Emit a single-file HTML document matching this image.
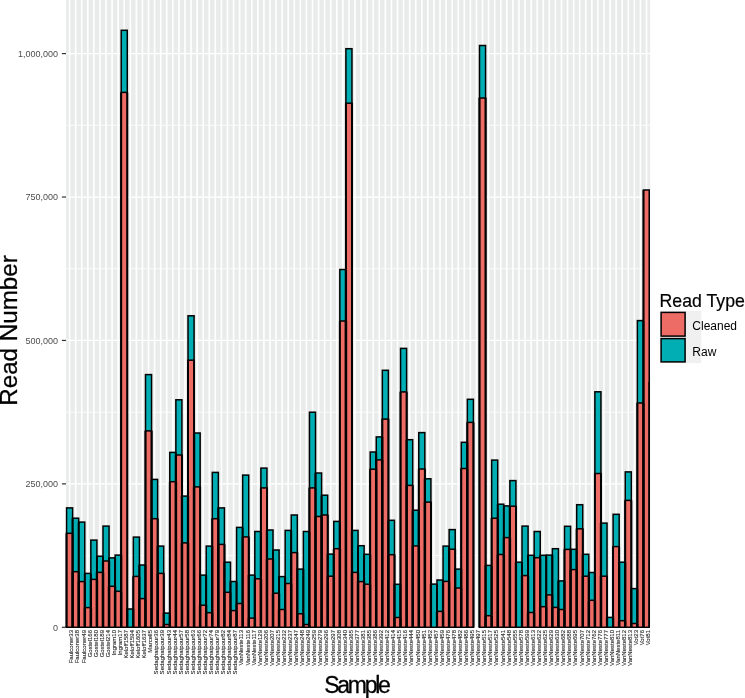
<!DOCTYPE html>
<html><head><meta charset="utf-8"><title>Read Number by Sample</title>
<style>html,body{margin:0;padding:0;background:#fff}svg{display:block}text{font-family:"Liberation Sans",Arial,Helvetica,sans-serif}</style></head><body>
<svg width="745" height="698" viewBox="0 0 745 698">
<rect width="745" height="698" fill="#fff"/>
<rect x="66.1" y="0" width="584.10" height="627.6" fill="#E9EAEA"/>
<path d="M66.1 555.59H650.2M66.1 412.16H650.2M66.1 268.74H650.2M66.1 125.31H650.2" stroke="#FFFFFF" stroke-width="0.8" fill="none"/>
<path d="M66.1 627.30H650.2M66.1 483.88H650.2M66.1 340.45H650.2M66.1 197.03H650.2M66.1 53.60H650.2" stroke="#FFFFFF" stroke-width="1.3" fill="none"/>
<path d="M69.59 0V627.6M75.66 0V627.6M81.73 0V627.6M87.80 0V627.6M93.88 0V627.6M99.95 0V627.6M106.02 0V627.6M112.10 0V627.6M118.17 0V627.6M124.24 0V627.6M130.31 0V627.6M136.39 0V627.6M142.46 0V627.6M148.53 0V627.6M154.61 0V627.6M160.68 0V627.6M166.75 0V627.6M172.82 0V627.6M178.90 0V627.6M184.97 0V627.6M191.04 0V627.6M197.12 0V627.6M203.19 0V627.6M209.26 0V627.6M215.33 0V627.6M221.41 0V627.6M227.48 0V627.6M233.55 0V627.6M239.62 0V627.6M245.70 0V627.6M251.77 0V627.6M257.84 0V627.6M263.92 0V627.6M269.99 0V627.6M276.06 0V627.6M282.13 0V627.6M288.21 0V627.6M294.28 0V627.6M300.35 0V627.6M306.43 0V627.6M312.50 0V627.6M318.57 0V627.6M324.64 0V627.6M330.72 0V627.6M336.79 0V627.6M342.86 0V627.6M348.94 0V627.6M355.01 0V627.6M361.08 0V627.6M367.15 0V627.6M373.23 0V627.6M379.30 0V627.6M385.37 0V627.6M391.44 0V627.6M397.52 0V627.6M403.59 0V627.6M409.66 0V627.6M415.74 0V627.6M421.81 0V627.6M427.88 0V627.6M433.95 0V627.6M440.03 0V627.6M446.10 0V627.6M452.17 0V627.6M458.25 0V627.6M464.32 0V627.6M470.39 0V627.6M476.46 0V627.6M482.54 0V627.6M488.61 0V627.6M494.68 0V627.6M500.76 0V627.6M506.83 0V627.6M512.90 0V627.6M518.97 0V627.6M525.05 0V627.6M531.12 0V627.6M537.19 0V627.6M543.26 0V627.6M549.34 0V627.6M555.41 0V627.6M561.48 0V627.6M567.56 0V627.6M573.63 0V627.6M579.70 0V627.6M585.77 0V627.6M591.85 0V627.6M597.92 0V627.6M603.99 0V627.6M610.07 0V627.6M616.14 0V627.6M622.21 0V627.6M628.28 0V627.6M634.36 0V627.6M640.43 0V627.6M646.50 0V627.6" stroke="#FFFFFF" stroke-width="1.6" fill="none"/>
<clipPath id="pc"><rect x="65.10" y="0" width="585.00" height="627.95"/></clipPath>
<g clip-path="url(#pc)">
<g stroke="#000" stroke-width="1.5" stroke-linejoin="miter">
<rect x="66.55" y="507.90" width="6.073" height="119.40" fill="#00AEB4"/>
<rect x="66.55" y="533.30" width="6.073" height="94.00" fill="#EE6C66"/>
<rect x="72.62" y="518.20" width="6.073" height="109.10" fill="#00AEB4"/>
<rect x="72.62" y="571.70" width="6.073" height="55.60" fill="#EE6C66"/>
<rect x="78.70" y="522.10" width="6.073" height="105.20" fill="#00AEB4"/>
<rect x="78.70" y="581.60" width="6.073" height="45.70" fill="#EE6C66"/>
<rect x="84.77" y="573.40" width="6.073" height="53.90" fill="#00AEB4"/>
<rect x="84.77" y="607.60" width="6.073" height="19.70" fill="#EE6C66"/>
<rect x="90.84" y="540.10" width="6.073" height="87.20" fill="#00AEB4"/>
<rect x="90.84" y="579.40" width="6.073" height="47.90" fill="#EE6C66"/>
<rect x="96.91" y="556.20" width="6.073" height="71.10" fill="#00AEB4"/>
<rect x="96.91" y="572.40" width="6.073" height="54.90" fill="#EE6C66"/>
<rect x="102.99" y="526.10" width="6.073" height="101.20" fill="#00AEB4"/>
<rect x="102.99" y="561.00" width="6.073" height="66.30" fill="#EE6C66"/>
<rect x="109.06" y="557.90" width="6.073" height="69.40" fill="#00AEB4"/>
<rect x="109.06" y="586.30" width="6.073" height="41.00" fill="#EE6C66"/>
<rect x="115.13" y="555.10" width="6.073" height="72.20" fill="#00AEB4"/>
<rect x="115.13" y="591.30" width="6.073" height="36.00" fill="#EE6C66"/>
<rect x="121.21" y="30.30" width="6.073" height="597.00" fill="#00AEB4"/>
<rect x="121.21" y="92.40" width="6.073" height="534.90" fill="#EE6C66"/>
<rect x="127.28" y="609.00" width="6.073" height="18.30" fill="#00AEB4"/>
<rect x="133.35" y="537.10" width="6.073" height="90.20" fill="#00AEB4"/>
<rect x="133.35" y="576.40" width="6.073" height="50.90" fill="#EE6C66"/>
<rect x="139.42" y="565.00" width="6.073" height="62.30" fill="#00AEB4"/>
<rect x="139.42" y="598.60" width="6.073" height="28.70" fill="#EE6C66"/>
<rect x="145.50" y="374.60" width="6.073" height="252.70" fill="#00AEB4"/>
<rect x="145.50" y="430.90" width="6.073" height="196.40" fill="#EE6C66"/>
<rect x="151.57" y="479.40" width="6.073" height="147.90" fill="#00AEB4"/>
<rect x="151.57" y="518.70" width="6.073" height="108.60" fill="#EE6C66"/>
<rect x="157.64" y="546.10" width="6.073" height="81.20" fill="#00AEB4"/>
<rect x="157.64" y="573.40" width="6.073" height="53.90" fill="#EE6C66"/>
<rect x="163.71" y="613.10" width="6.073" height="14.20" fill="#00AEB4"/>
<rect x="163.71" y="624.50" width="6.073" height="2.80" fill="#EE6C66"/>
<rect x="169.79" y="452.40" width="6.073" height="174.90" fill="#00AEB4"/>
<rect x="169.79" y="481.70" width="6.073" height="145.60" fill="#EE6C66"/>
<rect x="175.86" y="399.80" width="6.073" height="227.50" fill="#00AEB4"/>
<rect x="175.86" y="455.00" width="6.073" height="172.30" fill="#EE6C66"/>
<rect x="181.93" y="496.10" width="6.073" height="131.20" fill="#00AEB4"/>
<rect x="181.93" y="542.90" width="6.073" height="84.40" fill="#EE6C66"/>
<rect x="188.01" y="315.80" width="6.073" height="311.50" fill="#00AEB4"/>
<rect x="188.01" y="360.20" width="6.073" height="267.10" fill="#EE6C66"/>
<rect x="194.08" y="433.00" width="6.073" height="194.30" fill="#00AEB4"/>
<rect x="194.08" y="486.90" width="6.073" height="140.40" fill="#EE6C66"/>
<rect x="200.15" y="575.10" width="6.073" height="52.20" fill="#00AEB4"/>
<rect x="200.15" y="605.20" width="6.073" height="22.10" fill="#EE6C66"/>
<rect x="206.22" y="546.10" width="6.073" height="81.20" fill="#00AEB4"/>
<rect x="206.22" y="612.70" width="6.073" height="14.60" fill="#EE6C66"/>
<rect x="212.30" y="472.40" width="6.073" height="154.90" fill="#00AEB4"/>
<rect x="212.30" y="518.70" width="6.073" height="108.60" fill="#EE6C66"/>
<rect x="218.37" y="507.90" width="6.073" height="119.40" fill="#00AEB4"/>
<rect x="218.37" y="544.40" width="6.073" height="82.90" fill="#EE6C66"/>
<rect x="224.44" y="562.20" width="6.073" height="65.10" fill="#00AEB4"/>
<rect x="224.44" y="592.30" width="6.073" height="35.00" fill="#EE6C66"/>
<rect x="230.52" y="581.50" width="6.073" height="45.80" fill="#00AEB4"/>
<rect x="230.52" y="610.60" width="6.073" height="16.70" fill="#EE6C66"/>
<rect x="236.59" y="527.40" width="6.073" height="99.90" fill="#00AEB4"/>
<rect x="236.59" y="603.50" width="6.073" height="23.80" fill="#EE6C66"/>
<rect x="242.66" y="475.10" width="6.073" height="152.20" fill="#00AEB4"/>
<rect x="242.66" y="536.90" width="6.073" height="90.40" fill="#EE6C66"/>
<rect x="248.73" y="575.10" width="6.073" height="52.20" fill="#00AEB4"/>
<rect x="248.73" y="618.10" width="6.073" height="9.20" fill="#EE6C66"/>
<rect x="254.81" y="531.50" width="6.073" height="95.80" fill="#00AEB4"/>
<rect x="254.81" y="578.80" width="6.073" height="48.50" fill="#EE6C66"/>
<rect x="260.88" y="468.10" width="6.073" height="159.20" fill="#00AEB4"/>
<rect x="260.88" y="487.90" width="6.073" height="139.40" fill="#EE6C66"/>
<rect x="266.95" y="530.00" width="6.073" height="97.30" fill="#00AEB4"/>
<rect x="266.95" y="559.00" width="6.073" height="68.30" fill="#EE6C66"/>
<rect x="273.03" y="550.00" width="6.073" height="77.30" fill="#00AEB4"/>
<rect x="273.03" y="593.20" width="6.073" height="34.10" fill="#EE6C66"/>
<rect x="279.10" y="576.60" width="6.073" height="50.70" fill="#00AEB4"/>
<rect x="279.10" y="609.50" width="6.073" height="17.80" fill="#EE6C66"/>
<rect x="285.17" y="530.40" width="6.073" height="96.90" fill="#00AEB4"/>
<rect x="285.17" y="583.50" width="6.073" height="43.80" fill="#EE6C66"/>
<rect x="291.24" y="515.00" width="6.073" height="112.30" fill="#00AEB4"/>
<rect x="291.24" y="552.60" width="6.073" height="74.70" fill="#EE6C66"/>
<rect x="297.32" y="569.10" width="6.073" height="58.20" fill="#00AEB4"/>
<rect x="297.32" y="613.80" width="6.073" height="13.50" fill="#EE6C66"/>
<rect x="303.39" y="531.50" width="6.073" height="95.80" fill="#00AEB4"/>
<rect x="303.39" y="624.50" width="6.073" height="2.80" fill="#EE6C66"/>
<rect x="309.46" y="412.20" width="6.073" height="215.10" fill="#00AEB4"/>
<rect x="309.46" y="487.90" width="6.073" height="139.40" fill="#EE6C66"/>
<rect x="315.53" y="473.00" width="6.073" height="154.30" fill="#00AEB4"/>
<rect x="315.53" y="516.50" width="6.073" height="110.80" fill="#EE6C66"/>
<rect x="321.61" y="495.20" width="6.073" height="132.10" fill="#00AEB4"/>
<rect x="321.61" y="515.00" width="6.073" height="112.30" fill="#EE6C66"/>
<rect x="327.68" y="554.10" width="6.073" height="73.20" fill="#00AEB4"/>
<rect x="327.68" y="576.20" width="6.073" height="51.10" fill="#EE6C66"/>
<rect x="333.75" y="521.40" width="6.073" height="105.90" fill="#00AEB4"/>
<rect x="333.75" y="548.70" width="6.073" height="78.60" fill="#EE6C66"/>
<rect x="339.83" y="269.50" width="6.073" height="357.80" fill="#00AEB4"/>
<rect x="339.83" y="321.00" width="6.073" height="306.30" fill="#EE6C66"/>
<rect x="345.90" y="48.70" width="6.073" height="578.60" fill="#00AEB4"/>
<rect x="345.90" y="103.20" width="6.073" height="524.10" fill="#EE6C66"/>
<rect x="351.97" y="530.40" width="6.073" height="96.90" fill="#00AEB4"/>
<rect x="351.97" y="572.40" width="6.073" height="54.90" fill="#EE6C66"/>
<rect x="358.04" y="545.70" width="6.073" height="81.60" fill="#00AEB4"/>
<rect x="358.04" y="581.60" width="6.073" height="45.70" fill="#EE6C66"/>
<rect x="364.12" y="554.30" width="6.073" height="73.00" fill="#00AEB4"/>
<rect x="364.12" y="584.20" width="6.073" height="43.10" fill="#EE6C66"/>
<rect x="370.19" y="452.00" width="6.073" height="175.30" fill="#00AEB4"/>
<rect x="370.19" y="469.20" width="6.073" height="158.10" fill="#EE6C66"/>
<rect x="376.26" y="436.90" width="6.073" height="190.40" fill="#00AEB4"/>
<rect x="376.26" y="459.90" width="6.073" height="167.40" fill="#EE6C66"/>
<rect x="382.34" y="370.30" width="6.073" height="257.00" fill="#00AEB4"/>
<rect x="382.34" y="419.10" width="6.073" height="208.20" fill="#EE6C66"/>
<rect x="388.41" y="520.30" width="6.073" height="107.00" fill="#00AEB4"/>
<rect x="388.41" y="554.70" width="6.073" height="72.60" fill="#EE6C66"/>
<rect x="394.48" y="584.30" width="6.073" height="43.00" fill="#00AEB4"/>
<rect x="394.48" y="617.50" width="6.073" height="9.80" fill="#EE6C66"/>
<rect x="400.55" y="348.40" width="6.073" height="278.90" fill="#00AEB4"/>
<rect x="400.55" y="391.90" width="6.073" height="235.40" fill="#EE6C66"/>
<rect x="406.63" y="439.70" width="6.073" height="187.60" fill="#00AEB4"/>
<rect x="406.63" y="485.40" width="6.073" height="141.90" fill="#EE6C66"/>
<rect x="412.70" y="510.20" width="6.073" height="117.10" fill="#00AEB4"/>
<rect x="412.70" y="545.90" width="6.073" height="81.40" fill="#EE6C66"/>
<rect x="418.77" y="432.60" width="6.073" height="194.70" fill="#00AEB4"/>
<rect x="418.77" y="469.00" width="6.073" height="158.30" fill="#EE6C66"/>
<rect x="424.85" y="478.80" width="6.073" height="148.50" fill="#00AEB4"/>
<rect x="424.85" y="502.10" width="6.073" height="125.20" fill="#EE6C66"/>
<rect x="430.92" y="584.10" width="6.073" height="43.20" fill="#00AEB4"/>
<rect x="436.99" y="580.00" width="6.073" height="47.30" fill="#00AEB4"/>
<rect x="436.99" y="611.40" width="6.073" height="15.90" fill="#EE6C66"/>
<rect x="443.06" y="546.10" width="6.073" height="81.20" fill="#00AEB4"/>
<rect x="443.06" y="581.40" width="6.073" height="45.90" fill="#EE6C66"/>
<rect x="449.14" y="529.60" width="6.073" height="97.70" fill="#00AEB4"/>
<rect x="449.14" y="549.20" width="6.073" height="78.10" fill="#EE6C66"/>
<rect x="455.21" y="569.10" width="6.073" height="58.20" fill="#00AEB4"/>
<rect x="455.21" y="588.00" width="6.073" height="39.30" fill="#EE6C66"/>
<rect x="461.28" y="442.30" width="6.073" height="185.00" fill="#00AEB4"/>
<rect x="461.28" y="468.50" width="6.073" height="158.80" fill="#EE6C66"/>
<rect x="467.35" y="399.30" width="6.073" height="228.00" fill="#00AEB4"/>
<rect x="467.35" y="422.40" width="6.073" height="204.90" fill="#EE6C66"/>
<rect x="479.50" y="45.50" width="6.073" height="581.80" fill="#00AEB4"/>
<rect x="479.50" y="98.00" width="6.073" height="529.30" fill="#EE6C66"/>
<rect x="485.57" y="565.40" width="6.073" height="61.90" fill="#00AEB4"/>
<rect x="485.57" y="615.70" width="6.073" height="11.60" fill="#EE6C66"/>
<rect x="491.65" y="460.10" width="6.073" height="167.20" fill="#00AEB4"/>
<rect x="491.65" y="518.20" width="6.073" height="109.10" fill="#EE6C66"/>
<rect x="497.72" y="504.20" width="6.073" height="123.10" fill="#00AEB4"/>
<rect x="497.72" y="554.50" width="6.073" height="72.80" fill="#EE6C66"/>
<rect x="503.79" y="505.90" width="6.073" height="121.40" fill="#00AEB4"/>
<rect x="503.79" y="537.60" width="6.073" height="89.70" fill="#EE6C66"/>
<rect x="509.86" y="480.60" width="6.073" height="146.70" fill="#00AEB4"/>
<rect x="509.86" y="506.20" width="6.073" height="121.10" fill="#EE6C66"/>
<rect x="515.94" y="562.20" width="6.073" height="65.10" fill="#00AEB4"/>
<rect x="522.01" y="526.10" width="6.073" height="101.20" fill="#00AEB4"/>
<rect x="522.01" y="575.60" width="6.073" height="51.70" fill="#EE6C66"/>
<rect x="528.08" y="555.30" width="6.073" height="72.00" fill="#00AEB4"/>
<rect x="528.08" y="612.50" width="6.073" height="14.80" fill="#EE6C66"/>
<rect x="534.16" y="531.50" width="6.073" height="95.80" fill="#00AEB4"/>
<rect x="534.16" y="557.70" width="6.073" height="69.60" fill="#EE6C66"/>
<rect x="540.23" y="555.30" width="6.073" height="72.00" fill="#00AEB4"/>
<rect x="540.23" y="606.70" width="6.073" height="20.60" fill="#EE6C66"/>
<rect x="546.30" y="555.10" width="6.073" height="72.20" fill="#00AEB4"/>
<rect x="546.30" y="594.90" width="6.073" height="32.40" fill="#EE6C66"/>
<rect x="552.37" y="548.70" width="6.073" height="78.60" fill="#00AEB4"/>
<rect x="552.37" y="607.40" width="6.073" height="19.90" fill="#EE6C66"/>
<rect x="558.45" y="580.90" width="6.073" height="46.40" fill="#00AEB4"/>
<rect x="558.45" y="609.50" width="6.073" height="17.80" fill="#EE6C66"/>
<rect x="564.52" y="526.30" width="6.073" height="101.00" fill="#00AEB4"/>
<rect x="564.52" y="549.40" width="6.073" height="77.90" fill="#EE6C66"/>
<rect x="570.59" y="549.30" width="6.073" height="78.00" fill="#00AEB4"/>
<rect x="570.59" y="569.60" width="6.073" height="57.70" fill="#EE6C66"/>
<rect x="576.67" y="504.70" width="6.073" height="122.60" fill="#00AEB4"/>
<rect x="576.67" y="528.80" width="6.073" height="98.50" fill="#EE6C66"/>
<rect x="582.74" y="554.30" width="6.073" height="73.00" fill="#00AEB4"/>
<rect x="582.74" y="576.20" width="6.073" height="51.10" fill="#EE6C66"/>
<rect x="588.81" y="572.50" width="6.073" height="54.80" fill="#00AEB4"/>
<rect x="588.81" y="600.30" width="6.073" height="27.00" fill="#EE6C66"/>
<rect x="594.88" y="391.80" width="6.073" height="235.50" fill="#00AEB4"/>
<rect x="594.88" y="473.50" width="6.073" height="153.80" fill="#EE6C66"/>
<rect x="600.96" y="523.10" width="6.073" height="104.20" fill="#00AEB4"/>
<rect x="600.96" y="576.20" width="6.073" height="51.10" fill="#EE6C66"/>
<rect x="607.03" y="617.40" width="6.073" height="9.90" fill="#00AEB4"/>
<rect x="613.10" y="514.30" width="6.073" height="113.00" fill="#00AEB4"/>
<rect x="613.10" y="546.60" width="6.073" height="80.70" fill="#EE6C66"/>
<rect x="619.17" y="562.20" width="6.073" height="65.10" fill="#00AEB4"/>
<rect x="619.17" y="620.70" width="6.073" height="6.60" fill="#EE6C66"/>
<rect x="625.25" y="471.90" width="6.073" height="155.40" fill="#00AEB4"/>
<rect x="625.25" y="500.40" width="6.073" height="126.90" fill="#EE6C66"/>
<rect x="631.32" y="588.60" width="6.073" height="38.70" fill="#00AEB4"/>
<rect x="631.32" y="623.50" width="6.073" height="3.80" fill="#EE6C66"/>
<rect x="637.39" y="320.60" width="6.073" height="306.70" fill="#00AEB4"/>
<rect x="637.39" y="403.00" width="6.073" height="224.30" fill="#EE6C66"/>
<rect x="643.47" y="190.00" width="6.073" height="437.30" fill="#EE6C66"/>
</g>
<path d="M66.55 533.30V627.30M72.62 518.20V533.30M78.70 522.10V571.70M84.77 573.40V581.60M90.84 573.40V579.40M96.91 556.20V572.40M102.99 556.20V561.00M109.06 557.90V561.00M115.13 557.90V586.30M121.21 92.40V555.10M127.28 92.40V609.00M133.35 576.40V609.00M139.42 565.00V576.40M145.50 430.90V565.00M151.57 430.90V479.40M157.64 518.70V546.10M163.71 573.40V613.10M169.79 481.70V613.10M175.86 452.40V455.00M181.93 455.00V496.10M188.01 360.20V496.10M194.08 360.20V433.00M200.15 486.90V575.10M206.22 575.10V605.20M212.30 518.70V546.10M218.37 507.90V518.70M224.44 544.40V562.20M230.52 581.50V592.30M236.59 581.50V603.50M242.66 527.40V536.90M248.73 536.90V575.10M254.81 575.10V578.80M260.88 487.90V531.50M266.95 487.90V530.00M273.03 550.00V559.00M279.10 576.60V593.20M285.17 576.60V583.50M291.24 530.40V552.60M297.32 552.60V569.10M303.39 569.10V613.80M309.46 487.90V531.50M315.53 473.00V487.90M321.61 495.20V515.00M327.68 515.00V554.10M333.75 548.70V554.10M339.83 321.00V521.40M345.90 103.20V269.50M351.97 103.20V530.40M358.04 545.70V572.40M364.12 554.30V581.60M370.19 469.20V554.30M376.26 452.00V459.90M382.34 419.10V436.90M388.41 419.10V520.30M394.48 554.70V584.30M400.55 391.90V584.30M406.63 391.90V439.70M412.70 485.40V510.20M418.77 469.00V510.20M424.85 469.00V478.80M430.92 502.10V584.10M436.99 584.10V611.40M443.06 580.00V581.40M449.14 546.10V549.20M455.21 549.20V569.10M461.28 468.50V569.10M467.35 422.40V442.30M473.43 422.40V627.30M479.50 98.00V627.30M485.57 98.00V565.40M491.65 518.20V565.40M497.72 504.20V518.20M503.79 505.90V537.60M509.86 505.90V506.20M515.94 506.20V562.20M522.01 562.20V575.60M528.08 555.30V575.60M534.16 555.30V557.70M540.23 555.30V557.70M546.30 555.30V594.90M552.37 555.10V594.90M558.45 580.90V607.40M564.52 549.40V580.90M570.59 549.30V549.40M576.67 528.80V549.30M582.74 528.80V554.30M588.81 572.50V576.20M594.88 473.50V572.50M600.96 473.50V523.10M607.03 576.20V617.40M613.10 546.60V617.40M619.17 546.60V562.20M625.25 500.40V562.20M631.32 500.40V588.60M637.39 403.00V588.60M643.47 190.00V320.60M649.54 190.00V381.80" stroke="#000" stroke-width="1.9" fill="none"/>
<path d="M72.62 533.30V571.70M78.70 571.70V581.60M84.77 581.60V607.60M90.84 579.40V607.60M96.91 572.40V579.40M102.99 561.00V572.40M109.06 561.00V586.30M115.13 586.30V591.30M121.21 555.10V591.30M127.28 609.00V627.30M133.35 609.00V627.30M139.42 576.40V598.60M145.50 565.00V598.60M151.57 479.40V518.70M157.64 546.10V573.40M163.71 613.10V624.50M169.79 613.10V624.50M175.86 455.00V481.70M181.93 496.10V542.90M188.01 496.10V542.90M194.08 433.00V486.90M200.15 575.10V605.20M206.22 605.20V612.70M212.30 546.10V612.70M218.37 518.70V544.40M224.44 562.20V592.30M230.52 592.30V610.60M236.59 603.50V610.60M242.66 536.90V603.50M248.73 575.10V618.10M254.81 578.80V618.10M260.88 531.50V578.80M266.95 530.00V559.00M273.03 559.00V593.20M279.10 593.20V609.50M285.17 583.50V609.50M291.24 552.60V583.50M297.32 569.10V613.80M303.39 613.80V624.50M309.46 531.50V624.50M315.53 487.90V516.50M321.61 515.00V516.50M327.68 554.10V576.20M333.75 554.10V576.20M339.83 521.40V548.70M345.90 269.50V321.00M351.97 530.40V572.40M358.04 572.40V581.60M364.12 581.60V584.20M370.19 554.30V584.20M376.26 459.90V469.20M382.34 436.90V459.90M388.41 520.30V554.70M394.48 584.30V617.50M400.55 584.30V617.50M406.63 439.70V485.40M412.70 510.20V545.90M418.77 510.20V545.90M424.85 478.80V502.10M430.92 584.10V627.30M436.99 611.40V627.30M443.06 581.40V611.40M449.14 549.20V581.40M455.21 569.10V588.00M461.28 569.10V588.00M467.35 442.30V468.50M485.57 565.40V615.70M491.65 565.40V615.70M497.72 518.20V554.50M503.79 537.60V554.50M509.86 506.20V537.60M515.94 562.20V627.30M522.01 575.60V627.30M528.08 575.60V612.50M534.16 557.70V612.50M540.23 557.70V606.70M546.30 594.90V606.70M552.37 594.90V607.40M558.45 607.40V609.50M564.52 580.90V609.50M570.59 549.40V569.60M576.67 549.30V569.60M582.74 554.30V576.20M588.81 576.20V600.30M594.88 572.50V600.30M600.96 523.10V576.20M607.03 617.40V627.30M613.10 617.40V627.30M619.17 562.20V620.70M625.25 562.20V620.70M631.32 588.60V623.50M637.39 588.60V623.50M643.47 320.60V403.00" stroke="#000" stroke-width="2.3" fill="none"/>
<path d="M72.62 571.70V627.30M78.70 581.60V627.30M84.77 607.60V627.30M90.84 607.60V627.30M96.91 579.40V627.30M102.99 572.40V627.30M109.06 586.30V627.30M115.13 591.30V627.30M121.21 591.30V627.30M139.42 598.60V627.30M145.50 598.60V627.30M151.57 518.70V627.30M157.64 573.40V627.30M163.71 624.50V627.30M169.79 624.50V627.30M175.86 481.70V627.30M181.93 542.90V627.30M188.01 542.90V627.30M194.08 486.90V627.30M200.15 605.20V627.30M206.22 612.70V627.30M212.30 612.70V627.30M218.37 544.40V627.30M224.44 592.30V627.30M230.52 610.60V627.30M236.59 610.60V627.30M242.66 603.50V627.30M248.73 618.10V627.30M254.81 618.10V627.30M260.88 578.80V627.30M266.95 559.00V627.30M273.03 593.20V627.30M279.10 609.50V627.30M285.17 609.50V627.30M291.24 583.50V627.30M297.32 613.80V627.30M303.39 624.50V627.30M309.46 624.50V627.30M315.53 516.50V627.30M321.61 516.50V627.30M327.68 576.20V627.30M333.75 576.20V627.30M339.83 548.70V627.30M345.90 321.00V627.30M351.97 572.40V627.30M358.04 581.60V627.30M364.12 584.20V627.30M370.19 584.20V627.30M376.26 469.20V627.30M382.34 459.90V627.30M388.41 554.70V627.30M394.48 617.50V627.30M400.55 617.50V627.30M406.63 485.40V627.30M412.70 545.90V627.30M418.77 545.90V627.30M424.85 502.10V627.30M443.06 611.40V627.30M449.14 581.40V627.30M455.21 588.00V627.30M461.28 588.00V627.30M467.35 468.50V627.30M485.57 615.70V627.30M491.65 615.70V627.30M497.72 554.50V627.30M503.79 554.50V627.30M509.86 537.60V627.30M528.08 612.50V627.30M534.16 612.50V627.30M540.23 606.70V627.30M546.30 606.70V627.30M552.37 607.40V627.30M558.45 609.50V627.30M564.52 609.50V627.30M570.59 569.60V627.30M576.67 569.60V627.30M582.74 576.20V627.30M588.81 600.30V627.30M594.88 600.30V627.30M600.96 576.20V627.30M619.17 620.70V627.30M625.25 620.70V627.30M631.32 623.50V627.30M637.39 623.50V627.30M643.47 403.00V627.30M649.54 381.80V627.30" stroke="#000" stroke-width="2.6" fill="none"/>
</g>
<path d="M61.9 627.30H66.1" stroke="#333" stroke-width="1.2"/>
<text x="58" y="630.70" font-size="9" text-anchor="end" fill="#4D4D4D">0</text>
<path d="M61.9 483.88H66.1" stroke="#333" stroke-width="1.2"/>
<text x="58" y="487.27" font-size="9" text-anchor="end" fill="#4D4D4D">250,000</text>
<path d="M61.9 340.45H66.1" stroke="#333" stroke-width="1.2"/>
<text x="58" y="343.85" font-size="9" text-anchor="end" fill="#4D4D4D">500,000</text>
<path d="M61.9 197.03H66.1" stroke="#333" stroke-width="1.2"/>
<text x="58" y="200.43" font-size="9" text-anchor="end" fill="#4D4D4D">750,000</text>
<path d="M61.9 53.60H66.1" stroke="#333" stroke-width="1.2"/>
<text x="58" y="57.00" font-size="9" text-anchor="end" fill="#4D4D4D">1,000,000</text>
<g font-size="6" fill="#2A2A2A" stroke="#2A2A2A" stroke-width="0.12" text-anchor="end">
<text transform="translate(73.39 630.0) rotate(-90)">Faulconer33</text>
<text transform="translate(79.46 630.0) rotate(-90)">Faulconer38</text>
<text transform="translate(85.53 630.0) rotate(-90)">Faulconer49</text>
<text transform="translate(91.60 630.0) rotate(-90)">Gostel166</text>
<text transform="translate(97.68 630.0) rotate(-90)">Gostel180</text>
<text transform="translate(103.75 630.0) rotate(-90)">Gostel189</text>
<text transform="translate(109.82 630.0) rotate(-90)">Gostel214</text>
<text transform="translate(115.90 630.0) rotate(-90)">Ingram10</text>
<text transform="translate(121.97 630.0) rotate(-90)">Ingram17</text>
<text transform="translate(128.04 630.0) rotate(-90)">Keloff1587</text>
<text transform="translate(134.11 630.0) rotate(-90)">Keloff1594</text>
<text transform="translate(140.19 630.0) rotate(-90)">Keloff1605</text>
<text transform="translate(146.26 630.0) rotate(-90)">Keloff1637</text>
<text transform="translate(152.33 630.0) rotate(-90)">Marcell5</text>
<text transform="translate(158.41 630.0) rotate(-90)">Sedaghatpour36</text>
<text transform="translate(164.48 630.0) rotate(-90)">Sedaghatpour39</text>
<text transform="translate(170.55 630.0) rotate(-90)">Sedaghatpour43</text>
<text transform="translate(176.62 630.0) rotate(-90)">Sedaghatpour44</text>
<text transform="translate(182.70 630.0) rotate(-90)">Sedaghatpour57</text>
<text transform="translate(188.77 630.0) rotate(-90)">Sedaghatpour58</text>
<text transform="translate(194.84 630.0) rotate(-90)">Sedaghatpour63</text>
<text transform="translate(200.92 630.0) rotate(-90)">Sedaghatpour66</text>
<text transform="translate(206.99 630.0) rotate(-90)">Sedaghatpour72</text>
<text transform="translate(213.06 630.0) rotate(-90)">Sedaghatpour74</text>
<text transform="translate(219.13 630.0) rotate(-90)">Sedaghatpour79</text>
<text transform="translate(225.21 630.0) rotate(-90)">Sedaghatpour82</text>
<text transform="translate(231.28 630.0) rotate(-90)">Sedaghatpour84</text>
<text transform="translate(237.35 630.0) rotate(-90)">Sedaghatpour87</text>
<text transform="translate(243.42 630.0) rotate(-90)">VanNeste113</text>
<text transform="translate(249.50 630.0) rotate(-90)">VanNeste116</text>
<text transform="translate(255.57 630.0) rotate(-90)">VanNeste117</text>
<text transform="translate(261.64 630.0) rotate(-90)">VanNeste129</text>
<text transform="translate(267.72 630.0) rotate(-90)">VanNeste206</text>
<text transform="translate(273.79 630.0) rotate(-90)">VanNeste207</text>
<text transform="translate(279.86 630.0) rotate(-90)">VanNeste215</text>
<text transform="translate(285.93 630.0) rotate(-90)">VanNeste232</text>
<text transform="translate(292.01 630.0) rotate(-90)">VanNeste237</text>
<text transform="translate(298.08 630.0) rotate(-90)">VanNeste247</text>
<text transform="translate(304.15 630.0) rotate(-90)">VanNeste248</text>
<text transform="translate(310.23 630.0) rotate(-90)">VanNeste249</text>
<text transform="translate(316.30 630.0) rotate(-90)">VanNeste259</text>
<text transform="translate(322.37 630.0) rotate(-90)">VanNeste279</text>
<text transform="translate(328.44 630.0) rotate(-90)">VanNeste296</text>
<text transform="translate(334.52 630.0) rotate(-90)">VanNeste297</text>
<text transform="translate(340.59 630.0) rotate(-90)">VanNeste308</text>
<text transform="translate(346.66 630.0) rotate(-90)">VanNeste340</text>
<text transform="translate(352.74 630.0) rotate(-90)">VanNeste365</text>
<text transform="translate(358.81 630.0) rotate(-90)">VanNeste377</text>
<text transform="translate(364.88 630.0) rotate(-90)">VanNeste381</text>
<text transform="translate(370.95 630.0) rotate(-90)">VanNeste385</text>
<text transform="translate(377.03 630.0) rotate(-90)">VanNeste386</text>
<text transform="translate(383.10 630.0) rotate(-90)">VanNeste392</text>
<text transform="translate(389.17 630.0) rotate(-90)">VanNeste412</text>
<text transform="translate(395.24 630.0) rotate(-90)">VanNeste414</text>
<text transform="translate(401.32 630.0) rotate(-90)">VanNeste415</text>
<text transform="translate(407.39 630.0) rotate(-90)">VanNeste416</text>
<text transform="translate(413.46 630.0) rotate(-90)">VanNeste444</text>
<text transform="translate(419.54 630.0) rotate(-90)">VanNeste450</text>
<text transform="translate(425.61 630.0) rotate(-90)">VanNeste451</text>
<text transform="translate(431.68 630.0) rotate(-90)">VanNeste452</text>
<text transform="translate(437.75 630.0) rotate(-90)">VanNeste457</text>
<text transform="translate(443.83 630.0) rotate(-90)">VanNeste459</text>
<text transform="translate(449.90 630.0) rotate(-90)">VanNeste476</text>
<text transform="translate(455.97 630.0) rotate(-90)">VanNeste478</text>
<text transform="translate(462.05 630.0) rotate(-90)">VanNeste482</text>
<text transform="translate(468.12 630.0) rotate(-90)">VanNeste486</text>
<text transform="translate(474.19 630.0) rotate(-90)">VanNeste495</text>
<text transform="translate(480.26 630.0) rotate(-90)">VanNeste497</text>
<text transform="translate(486.34 630.0) rotate(-90)">VanNeste515</text>
<text transform="translate(492.41 630.0) rotate(-90)">VanNeste517</text>
<text transform="translate(498.48 630.0) rotate(-90)">VanNeste525</text>
<text transform="translate(504.56 630.0) rotate(-90)">VanNeste541</text>
<text transform="translate(510.63 630.0) rotate(-90)">VanNeste548</text>
<text transform="translate(516.70 630.0) rotate(-90)">VanNeste555</text>
<text transform="translate(522.77 630.0) rotate(-90)">VanNeste578</text>
<text transform="translate(528.85 630.0) rotate(-90)">VanNeste599</text>
<text transform="translate(534.92 630.0) rotate(-90)">VanNeste613</text>
<text transform="translate(540.99 630.0) rotate(-90)">VanNeste622</text>
<text transform="translate(547.06 630.0) rotate(-90)">VanNeste625</text>
<text transform="translate(553.14 630.0) rotate(-90)">VanNeste629</text>
<text transform="translate(559.21 630.0) rotate(-90)">VanNeste630</text>
<text transform="translate(565.28 630.0) rotate(-90)">VanNeste682</text>
<text transform="translate(571.36 630.0) rotate(-90)">VanNeste688</text>
<text transform="translate(577.43 630.0) rotate(-90)">VanNeste695</text>
<text transform="translate(583.50 630.0) rotate(-90)">VanNeste707</text>
<text transform="translate(589.57 630.0) rotate(-90)">VanNeste712</text>
<text transform="translate(595.65 630.0) rotate(-90)">VanNeste762</text>
<text transform="translate(601.72 630.0) rotate(-90)">VanNeste776</text>
<text transform="translate(607.79 630.0) rotate(-90)">VanNeste777</text>
<text transform="translate(613.87 630.0) rotate(-90)">VanNeste810</text>
<text transform="translate(619.94 630.0) rotate(-90)">VanNeste811</text>
<text transform="translate(626.01 630.0) rotate(-90)">VanNeste812</text>
<text transform="translate(632.08 630.0) rotate(-90)">VanNeste813</text>
<text transform="translate(638.16 630.0) rotate(-90)">Vot23</text>
<text transform="translate(644.23 630.0) rotate(-90)">Vot76</text>
<text transform="translate(650.30 630.0) rotate(-90)">Vot81</text>
</g>
<text transform="translate(17.3 330.5) rotate(-90)" font-size="24.2" text-anchor="middle" fill="#000" stroke="#000" stroke-width="0.3">Read Number</text>
<text x="356.4" y="693.3" font-size="23" text-anchor="middle" fill="#000" stroke="#000" stroke-width="0.3" letter-spacing="-2.3">Sample</text>
<text x="659.6" y="306.7" font-size="17.7" fill="#000" stroke="#000" stroke-width="0.2">Read Type</text>
<rect x="660.3" y="310.9" width="41" height="52.2" fill="#F0F0F0"/>
<rect x="661.1" y="312.4" width="24" height="23.7" fill="#EE6C66" stroke="#000" stroke-width="1.5"/>
<rect x="661.1" y="338.6" width="24" height="23.3" fill="#00AEB4" stroke="#000" stroke-width="1.5"/>
<text x="692.3" y="329.6" font-size="12" fill="#000">Cleaned</text>
<text x="692.3" y="355.9" font-size="12" fill="#000">Raw</text>
</svg></body></html>
